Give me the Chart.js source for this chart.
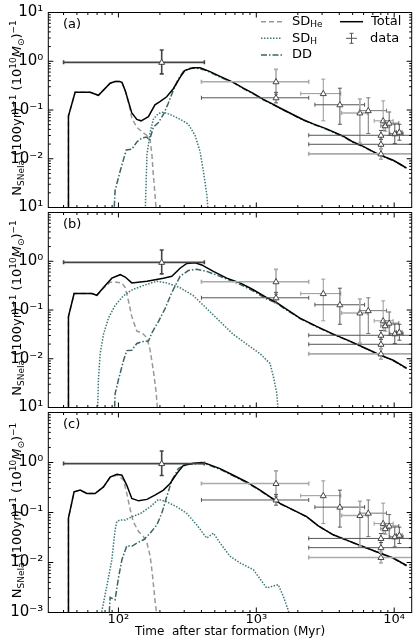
<!DOCTYPE html>
<html>
<head>
<meta charset="utf-8">
<script src="https://cdn.jsdelivr.net/npm/chart.js@4.4.1/dist/chart.umd.min.js"></script>
<style>
  body { margin: 0; background: #fff; }
  #wrap { position: relative; width: 415px; height: 643px; }
  canvas { position: absolute; left: 0; }
</style>
</head>
<body>
<div id="wrap">
  <canvas id="pa" width="415" height="220" style="top:0px"></canvas>
  <canvas id="pb" width="415" height="220" style="top:200px"></canvas>
  <canvas id="pc" width="415" height="243" style="top:400px"></canvas>
</div>
<script>
// ---- model curves, time in Myr, rate per (100yr) per 1e10 Msun ----
// panel (a)
var tTotA = [43.4, 43.4, 48.5, 62.4, 71.6, 87.1, 94.6, 102, 106, 112, 125, 136, 146, 155, 165, 184, 200, 224, 250, 280, 304, 349, 391, 462, 546, 681, 805, 951, 1124, 1328, 1485, 1854, 2191, 2588, 3237, 4270, 5045, 5961, 7043, 7870, 9832, 11000, 12300];
var totA = [0.0005, 0.075, 0.23, 0.23, 0.20, 0.355, 0.385, 0.385, 0.37, 0.25, 0.087, 0.064, 0.060, 0.066, 0.073, 0.128, 0.149, 0.187, 0.273, 0.466, 0.651, 0.736, 0.736, 0.613, 0.49, 0.37, 0.28, 0.22, 0.165, 0.13, 0.11, 0.08, 0.063, 0.052, 0.041, 0.029, 0.022, 0.018, 0.014, 0.012, 0.0093, 0.0078, 0.0064];
var tHeA = [43.4, 43.4, 48.5, 62.4, 71.6, 87.1, 94.6, 102, 106, 112, 120, 125, 136, 148, 161, 170, 175, 179, 184, 190];
var heA = [0.0005, 0.075, 0.23, 0.23, 0.20, 0.355, 0.385, 0.385, 0.37, 0.25, 0.12, 0.069, 0.044, 0.036, 0.030, 0.024, 0.012, 0.0048, 0.0019, 0.0006];
var tHA = [156, 161, 170, 179, 195, 212, 237, 280, 321, 360, 391, 413, 437, 452];
var hA = [0.0006, 0.0121, 0.035, 0.0645, 0.085, 0.090, 0.081, 0.0645, 0.0513, 0.030, 0.014, 0.0056, 0.0019, 0.0006];
var tDDA = [92.5, 94.6, 103, 114, 125, 136, 148, 161, 168, 179, 195, 212, 230, 250, 272, 296, 331, 370, 425, 488, 577, 681, 805, 951, 1124, 1328, 1485, 1854, 2191, 2588, 3237, 4270, 5045, 5961, 7043, 7870, 9832, 11000, 12300];
var ddA = [0.0006, 0.00226, 0.0056, 0.0152, 0.0157, 0.0221, 0.0266, 0.0278, 0.0239, 0.044, 0.0552, 0.081, 0.138, 0.254, 0.431, 0.62, 0.72, 0.72, 0.66, 0.55, 0.44, 0.365, 0.275, 0.215, 0.162, 0.128, 0.108, 0.079, 0.062, 0.051, 0.040, 0.0285, 0.0216, 0.0177, 0.0138, 0.0118, 0.0092, 0.0077, 0.0063];

// panel (b)
var tTotB = [43.4, 43.4, 47.7, 64.2, 69.7, 77.9, 89.6, 103, 112, 125, 161, 212, 244, 280, 313, 360, 402, 488, 610, 762, 951, 1189, 1390, 1600, 2073, 2740, 3614, 4775, 6310, 7870, 9832, 12300];
var totB = [0.0005, 0.073, 0.218, 0.218, 0.20, 0.29, 0.45, 0.53, 0.475, 0.36, 0.39, 0.45, 0.49, 0.72, 0.90, 0.93, 0.84, 0.62, 0.45, 0.36, 0.26, 0.18, 0.145, 0.11, 0.068, 0.046, 0.032, 0.023, 0.016, 0.012, 0.0093, 0.0064];
var tHeB = [43.4, 43.4, 47.7, 64.2, 69.7, 77.9, 87.1, 97.4, 106, 112, 118, 125, 136, 148, 161, 170, 179, 188, 193];
var heB = [0.0005, 0.073, 0.218, 0.218, 0.20, 0.28, 0.37, 0.37, 0.36, 0.287, 0.157, 0.073, 0.037, 0.034, 0.027, 0.0147, 0.0059, 0.002, 0.0007];
var tHB = [70.4, 71.6, 73.7, 77.9, 84.6, 94.6, 109, 128, 161, 190, 224, 280, 349, 437, 546, 681, 851, 1064, 1257, 1328, 1406, 1450];
var hB = [0.0006, 0.0037, 0.0127, 0.0316, 0.068, 0.124, 0.197, 0.267, 0.336, 0.39, 0.36, 0.287, 0.197, 0.107, 0.058, 0.0316, 0.020, 0.0127, 0.008, 0.0044, 0.002, 0.0007];
var tDDB = [93.3, 94.6, 100, 109, 115, 125, 136, 152, 165, 175, 195, 218, 244, 280, 321, 370, 437, 546, 762, 951, 1189, 1390, 1600, 2073, 2740, 3614, 4775, 6310, 7870, 9832, 12300];
var ddB = [0.0006, 0.0019, 0.0037, 0.0093, 0.0147, 0.015, 0.0206, 0.0227, 0.023, 0.034, 0.058, 0.107, 0.229, 0.49, 0.645, 0.685, 0.62, 0.49, 0.336, 0.245, 0.168, 0.14, 0.107, 0.067, 0.045, 0.0315, 0.0227, 0.0158, 0.0119, 0.0092, 0.0063];

// panel (c)
var tTotC = [43.4, 43.4, 47.7, 52.8, 59.0, 67.7, 77.9, 87.1, 97.4, 106, 115, 125, 140, 161, 184, 212, 237, 265, 296, 349, 402, 437, 546, 681, 851, 1064, 1257, 1485, 1755, 2318, 2814, 3614, 4775, 6310, 7870, 9832, 12300];
var totC = [0.0005, 0.077, 0.259, 0.28, 0.24, 0.24, 0.325, 0.513, 0.58, 0.555, 0.35, 0.191, 0.171, 0.183, 0.222, 0.28, 0.38, 0.60, 0.875, 0.97, 1.0, 0.95, 0.753, 0.555, 0.408, 0.28, 0.206, 0.152, 0.121, 0.083, 0.054, 0.0358, 0.0264, 0.0195, 0.0155, 0.0123, 0.0087];
var tHeC = [43.4, 43.4, 47.7, 52.8, 59.0, 67.7, 77.9, 87.1, 97.4, 103, 109, 115, 122, 128, 140, 152, 161, 170, 177, 184, 192];
var heC = [0.0005, 0.077, 0.259, 0.28, 0.24, 0.24, 0.325, 0.50, 0.56, 0.513, 0.44, 0.24, 0.112, 0.066, 0.0416, 0.033, 0.0245, 0.0133, 0.0053, 0.0018, 0.0007];
var tHC = [72.8, 82.4, 89.6, 94.6, 97.4, 103, 112, 125, 145, 170, 195, 224, 265, 313, 370, 437, 488, 546, 645, 762, 951, 1189, 1443, 1570, 1707, 1780];
var hC = [0.0006, 0.0034, 0.0114, 0.045, 0.066, 0.071, 0.071, 0.082, 0.096, 0.13, 0.183, 0.164, 0.13, 0.096, 0.0565, 0.0308, 0.0387, 0.0245, 0.0133, 0.0098, 0.0072, 0.0031, 0.0036, 0.0021, 0.0011, 0.0006];
var tDDC = [84.9, 87.1, 94.6, 100, 106, 115, 125, 136, 152, 170, 190, 206, 224, 244, 272, 313, 360, 402, 437, 546, 681, 851, 1064, 1257, 1485, 1755, 2318, 2814, 3614, 4775, 6310, 7870, 9832, 12300];
var ddC = [0.0006, 0.002, 0.0018, 0.0049, 0.0114, 0.0216, 0.0211, 0.0245, 0.0285, 0.0387, 0.0565, 0.096, 0.206, 0.44, 0.753, 0.93, 0.94, 0.96, 0.92, 0.73, 0.54, 0.40, 0.275, 0.203, 0.15, 0.12, 0.082, 0.054, 0.0356, 0.0263, 0.0194, 0.0154, 0.0122, 0.0086];

// ---- observed rates (same in every panel) ----
var obsT   = [206, 1390, 1390, 3060, 4040, 5640, 6490, 8320, 8610, 9200, 10100, 10900, 8020, 8020, 8020];
var obsN   = [0.95, 0.38, 0.178, 0.217, 0.128, 0.087, 0.097, 0.060, 0.0475, 0.0537, 0.0325, 0.035, 0.0303, 0.0198, 0.0126];
var obsTLo = [40, 400, 400, 2100, 2660, 4150, 5600, 7160, 8000, 8530, 9300, 10400, 2400, 2400, 2400];
var obsTHi = [420, 2400, 2400, 4100, 6100, 6400, 8800, 9830, 9300, 10800, 11600, 11400, 20000, 20000, 20000];
var obsNLo = [0.55, 0.21, 0.14, 0.06, 0.051, 0.021, 0.033, 0.038, 0.037, 0.030, 0.0205, 0.024, 0.025, 0.016, 0.0098];
var obsNHi = [1.70, 0.68, 0.23, 0.43, 0.28, 0.168, 0.178, 0.154, 0.060, 0.091, 0.051, 0.051, 0.038, 0.025, 0.016];
var errShade = ['#444', '#aaa', '#555', '#999', '#555', '#aaa', '#777', '#999', '#777', '#666', '#555', '#555', '#555', '#555', '#aaa'];

var xTicks = [100, 1000, 10000];
var yTicks = [0.001, 0.01, 0.1, 1, 10];
var xTickText = { '100': '10\u00b2', '1000': '10\u00b3', '10000': '10\u2074' };

var FONT = '"DejaVu Sans", sans-serif';

function pts(ts, vs) {
  return ts.map(function (t, i) { return { x: t, y: vs[i] }; });
}

function drawRich(ctx, parts, x, y) {
  parts.forEach(function (p) {
    ctx.font = (p[3] ? 'italic ' : '') + p[1] + 'px ' + FONT;
    ctx.fillText(p[0], x, y + p[2]);
    x += ctx.measureText(p[0]).width;
  });
}
function richWidth(ctx, parts) {
  var w = 0;
  parts.forEach(function (p) {
    ctx.font = (p[3] ? 'italic ' : '') + p[1] + 'px ' + FONT;
    w += ctx.measureText(p[0]).width;
  });
  return w;
}

// frame + inward major/minor ticks on all four sides
var framePlugin = {
  id: 'frame',
  afterDraw: function (chart) {
    var ctx = chart.ctx, a = chart.chartArea, xs = chart.scales.x, ys = chart.scales.y;
    ctx.save();
    ctx.strokeStyle = '#000';
    ctx.lineWidth = 1;
    ctx.strokeRect(a.left, a.top, a.right - a.left, a.bottom - a.top);
    ctx.beginPath();
    for (var e = 1; e <= 4; e++) {
      for (var k = 1; k <= 9; k++) {
        var v = k * Math.pow(10, e);
        if (v < xs.min || v > xs.max) continue;
        var p = xs.getPixelForValue(v), L = k === 1 ? 5 : 2.5;
        ctx.moveTo(p, a.bottom); ctx.lineTo(p, a.bottom - L);
        ctx.moveTo(p, a.top); ctx.lineTo(p, a.top + L);
      }
    }
    for (var e2 = -3; e2 <= 1; e2++) {
      for (var k2 = 1; k2 <= 9; k2++) {
        var v2 = k2 * Math.pow(10, e2);
        if (v2 < ys.min * 0.999 || v2 > ys.max * 1.001) continue;
        var q = ys.getPixelForValue(v2), L2 = k2 === 1 ? 5 : 2.5;
        ctx.moveTo(a.left, q); ctx.lineTo(a.left + L2, q);
        ctx.moveTo(a.right, q); ctx.lineTo(a.right - L2, q);
      }
    }
    ctx.stroke();
    ctx.restore();
  }
};

// observational points with error bars
var obsPlugin = {
  id: 'obs',
  afterDatasetsDraw: function (chart) {
    var ctx = chart.ctx, a = chart.chartArea, xs = chart.scales.x, ys = chart.scales.y;
    ctx.save();
    ctx.beginPath();
    ctx.rect(a.left, a.top, a.right - a.left, a.bottom - a.top);
    ctx.clip();
    for (var i = 0; i < obsT.length; i++) {
      var px = xs.getPixelForValue(obsT[i]), py = ys.getPixelForValue(obsN[i]);
      var x1 = xs.getPixelForValue(obsTLo[i]), x2 = xs.getPixelForValue(obsTHi[i]);
      var y1 = ys.getPixelForValue(obsNHi[i]), y2 = ys.getPixelForValue(obsNLo[i]);
      ctx.strokeStyle = errShade[i];
      ctx.lineWidth = i === 0 ? 1.6 : (errShade[i] === '#aaa' ? 1.6 : 1);
      ctx.beginPath();
      ctx.moveTo(x1, py); ctx.lineTo(x2, py);
      ctx.moveTo(x1, py - 2); ctx.lineTo(x1, py + 2);
      ctx.moveTo(x2, py - 2); ctx.lineTo(x2, py + 2);
      ctx.moveTo(px, y1); ctx.lineTo(px, y2);
      ctx.moveTo(px - 2, y1); ctx.lineTo(px + 2, y1);
      ctx.moveTo(px - 2, y2); ctx.lineTo(px + 2, y2);
      ctx.stroke();
      ctx.beginPath();
      ctx.moveTo(px, py - 3.2); ctx.lineTo(px + 3, py + 2); ctx.lineTo(px - 3, py + 2); ctx.closePath();
      ctx.fillStyle = '#fff';
      ctx.fill();
      ctx.strokeStyle = '#333';
      ctx.lineWidth = 0.9;
      ctx.stroke();
    }
    ctx.restore();
  }
};

// panel tag, y title and (panel a) legend
var textPlugin = {
  id: 'texts',
  afterDraw: function (chart, args, opts) {
    var ctx = chart.ctx, a = chart.chartArea;
    ctx.save();
    ctx.fillStyle = '#000';
    ctx.textBaseline = 'middle';
    ctx.font = '13px ' + FONT;
    ctx.fillText(opts.tag, 63, a.top + 12.5);

    var title = [['N', 13, 0], ['SNeIa', 9, 3], [' (100yr)', 13, 0], ['\u22121', 9, -5], [' (10', 13, 0],
      ['10', 9, -5], ['M', 13, 0, true], ['\u2299', 9, 3], [')', 13, 0], ['\u22121', 9, -5]];
    ctx.textBaseline = 'alphabetic';
    var w = richWidth(ctx, title);
    ctx.save();
    ctx.translate(21, (a.top + a.bottom) / 2 - 2);
    ctx.rotate(-Math.PI / 2);
    drawRich(ctx, title, -w / 2, 0);
    ctx.restore();

    if (opts.legend) {
      var rows = [
        { y: 21.7, col: '#999', dash: [5, 3], parts: [['SD', 13, 0], ['He', 9, 3]] },
        { y: 38.3, col: '#3c7878', dash: [1.5, 1.5], parts: [['SD', 13, 0], ['H', 9, 3]] },
        { y: 55, col: '#3a6464', dash: [6, 2, 1.5, 2], parts: [['DD', 13, 0]] }
      ];
      ctx.textBaseline = 'middle';
      rows.forEach(function (r) {
        ctx.strokeStyle = r.col;
        ctx.lineWidth = 1.5;
        ctx.setLineDash(r.dash);
        ctx.beginPath(); ctx.moveTo(261, r.y); ctx.lineTo(282, r.y); ctx.stroke();
        ctx.setLineDash([]);
        drawRich(ctx, r.parts, 292, r.y);
      });
      ctx.strokeStyle = '#000';
      ctx.lineWidth = 1.5;
      ctx.beginPath(); ctx.moveTo(340, 21.7); ctx.lineTo(363, 21.7); ctx.stroke();
      drawRich(ctx, [['Total', 13, 0]], 371, 21.7);
      ctx.strokeStyle = '#555';
      ctx.lineWidth = 1;
      ctx.beginPath();
      ctx.moveTo(346, 38.3); ctx.lineTo(357, 38.3);
      ctx.moveTo(351.5, 33.3); ctx.lineTo(351.5, 43.3);
      ctx.moveTo(349.5, 33.3); ctx.lineTo(353.5, 33.3);
      ctx.moveTo(349.5, 43.3); ctx.lineTo(353.5, 43.3);
      ctx.stroke();
      drawRich(ctx, [['data', 13, 0]], 370, 38.3);
    }
    ctx.restore();
  }
};

function makePanel(id, padTop, padBottom, isBottom, tag, yText, tT, vT, tDD, vDD, tH, vH, tHe, vHe) {
  var xAxis = {
    type: 'logarithmic', min: 31, max: 13400, display: isBottom,
    grid: { display: false, drawTicks: false }, border: { display: false },
    afterBuildTicks: function (s) { s.ticks = xTicks.map(function (v) { return { value: v }; }); },
    ticks: {
      autoSkip: false, maxRotation: 0, padding: 1, color: '#000',
      font: { family: FONT, size: 13, lineHeight: 1 },
      callback: function (v) { return xTickText[String(v)] || ''; }
    },
    title: {
      display: true, text: 'Time  after star formation (Myr)', color: '#000',
      font: { family: FONT, size: 12 }, padding: { top: 0, bottom: 4 }
    }
  };
  if (isBottom) xAxis.afterFit = function (s) { s.height = 30.5; };
  return new Chart(document.getElementById(id), {
    type: 'line',
    data: {
      datasets: [
        { label: 'Total', data: pts(tT, vT), borderColor: '#000', borderWidth: 1.5 },
        { label: 'DD', data: pts(tDD, vDD), borderColor: '#3a6464', borderWidth: 1.5, borderDash: [6, 2, 1.5, 2] },
        { label: 'SD_H', data: pts(tH, vH), borderColor: '#3c7878', borderWidth: 1.5, borderDash: [1.5, 1.5] },
        { label: 'SD_He', data: pts(tHe, vHe), borderColor: '#999', borderWidth: 1.5, borderDash: [5, 3] }
      ]
    },
    options: {
      responsive: false, animation: false, events: [],
      layout: { padding: { left: 0, right: 3.3, top: padTop, bottom: padBottom } },
      elements: { point: { radius: 0 }, line: { tension: 0, fill: false } },
      plugins: {
        legend: { display: false }, tooltip: { enabled: false },
        texts: { tag: tag, legend: id === 'pa' }
      },
      scales: {
        x: xAxis,
        y: {
          type: 'logarithmic', min: 0.001, max: 10,
          grid: { display: false, drawTicks: false }, border: { display: false },
          afterFit: function (s) { s.width = 48.3; },
          afterBuildTicks: function (s) { s.ticks = yTicks.map(function (v) { return { value: v }; }); },
          ticks: {
            autoSkip: false, padding: 5, color: '#000',
            font: { family: FONT, size: 15, lineHeight: 1 },
            callback: function (v) { return yText[String(v)] || ''; }
          }
        }
      }
    },
    plugins: [obsPlugin, framePlugin, textPlugin]
  });
}

makePanel('pa', 8, 10.5, false, '(a)',
  { '10': '10\u00b9', '1': '10\u2070', '0.1': '10\u207b\u00b9', '0.01': '10\u207b\u00b2', '0.001': '10\u00b9' },
  tTotA, totA, tDDA, ddA, tHA, hA, tHeA, heA);
makePanel('pb', 9.5, 9, false, '(b)',
  { '1': '10\u2070', '0.1': '10\u207b\u00b9', '0.01': '10\u207b\u00b2', '0.001': '10\u00b9' },
  tTotB, totB, tDDB, ddB, tHB, hB, tHeB, heB);
makePanel('pc', 11, 0, true, '(c)',
  { '1': '10\u2070', '0.1': '10\u207b\u00b9', '0.01': '10\u207b\u00b2', '0.001': '10\u207b\u00b3' },
  tTotC, totC, tDDC, ddC, tHC, hC, tHeC, heC);
</script>
</body>
</html>
